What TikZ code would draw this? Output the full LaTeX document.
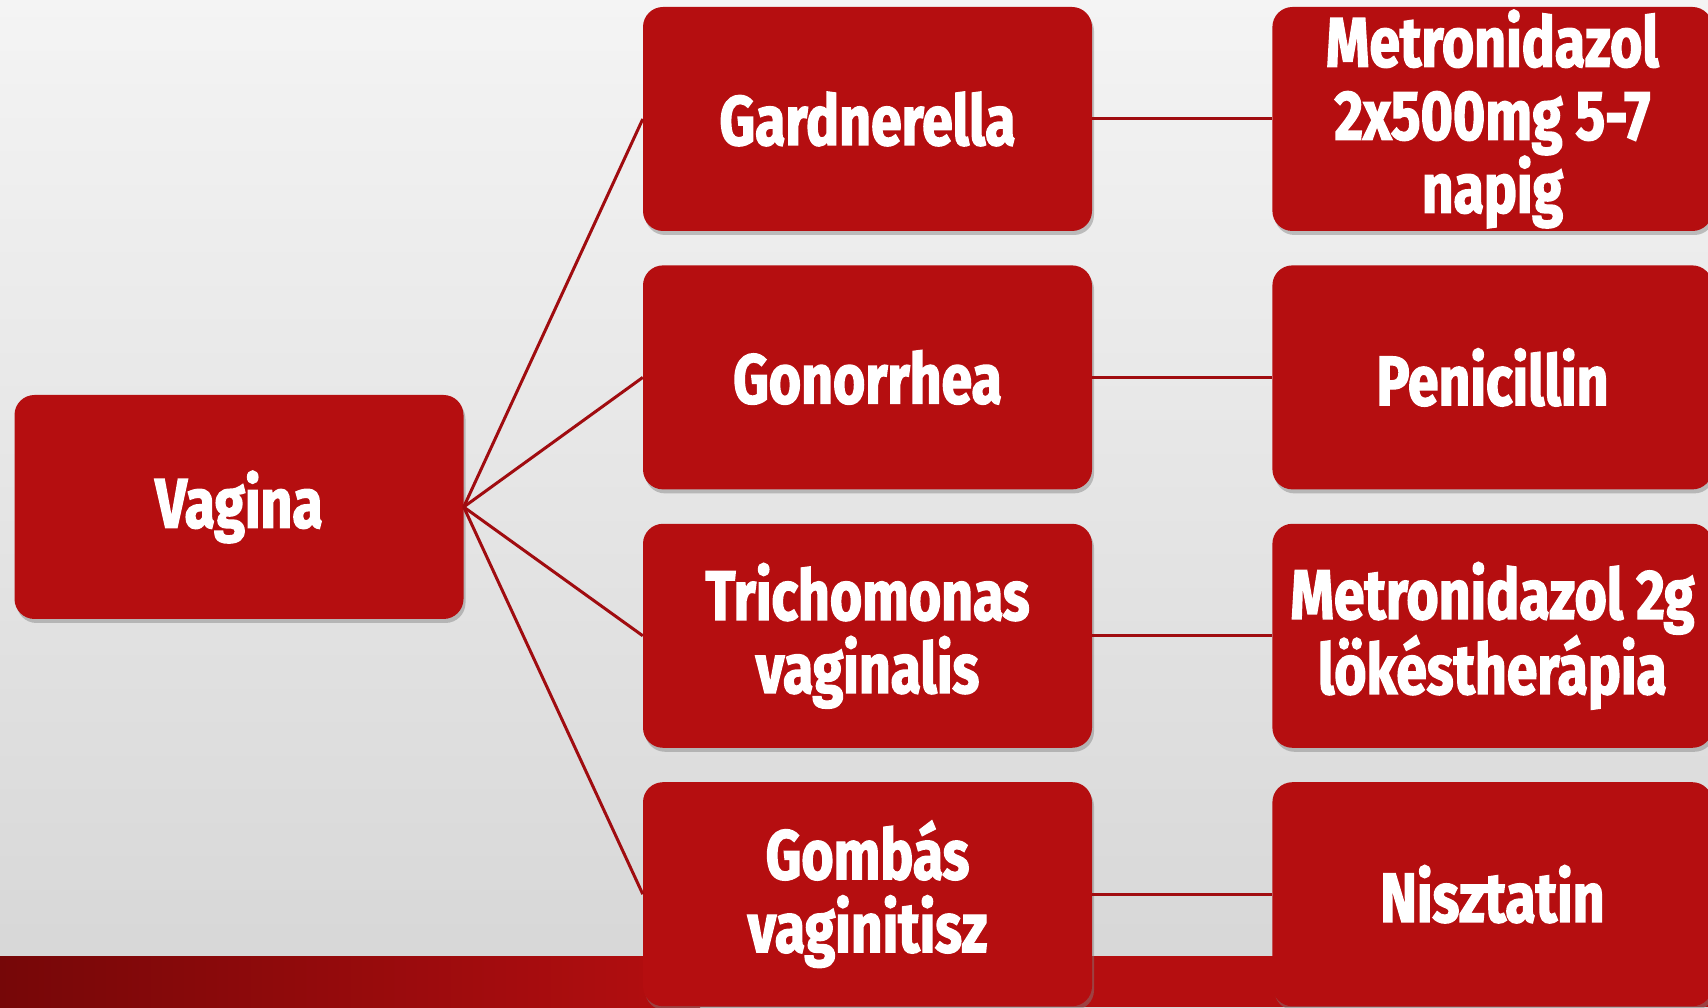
\documentclass[tikz,border=0pt]{standalone}
\usepackage{fontspec}
\newfontfamily\boxfont[FakeStretch=0.79,FakeBold=2]{Fira Sans}
\definecolor{BoxRed}{RGB}{181,14,16}
\definecolor{LinkRed}{RGB}{160,12,16}
\definecolor{BandDark}{RGB}{118,7,8}
\definecolor{BgTop}{RGB}{244,244,244}
\definecolor{BgBottom}{RGB}{214,214,214}
\usepackage{tikz}
\usetikzlibrary{positioning,shadows}

\begin{document}
\begin{tikzpicture}[x=1pt,y=1pt,node distance=34pt and 180pt, every node/.style={align=center},
box/.style={rounded corners=20pt,minimum width=449pt,minimum height=224pt,inner sep=2pt,fill=BoxRed,text=white,
  font=\boxfont\bfseries\fontsize{70}{73}\selectfont,
  drop shadow={shadow xshift=2pt,shadow yshift=-4pt,opacity=.45}},
link/.style={draw=LinkRed,line width=3pt}]
\useasboundingbox (0,0) rectangle (1708,1007);
\shade[top color=BgTop,bottom color=BgBottom] (0,0) rectangle (1708,1007);
\shade[left color=BandDark,right color=BoxRed] (0,0) rectangle (700,51);
\fill[BoxRed] (699,0) rectangle (1708,51);
\node[box] (vagina) at (239,500) {Vagina};
\node[box] (gard) at (867.5,888) {Gardnerella};
\node[box,below=of gard] (gono) {Gonorrhea};
\node[box,below=of gono] (trich) {Trichomonas\\vaginalis};
\node[box,below=of trich] (gomb) {Gombás\\vaginitisz};
\node[box,right=of gard,minimum width=440pt] (metro) {Metronidazol\\2x500mg 5-7\\napig};
\node[box,right=of gono,minimum width=440pt] (peni) {Penicillin};
\node[box,right=of trich,minimum width=440pt] (metrob) {Metronidazol 2g\\lökéstherápia};
\node[box,right=of gomb,minimum width=440pt] (nisz) {Nisztatin};
\draw[link] (vagina.east)--(gard.west);
\draw[link] (vagina.east)--(gono.west);
\draw[link] (vagina.east)--(trich.west);
\draw[link] (vagina.east)--(gomb.west);
\draw[link] (gard)--(metro);
\draw[link] (gono)--(peni);
\draw[link] (trich)--(metrob);
\draw[link] (gomb)--(nisz);
\end{tikzpicture}
\end{document}
